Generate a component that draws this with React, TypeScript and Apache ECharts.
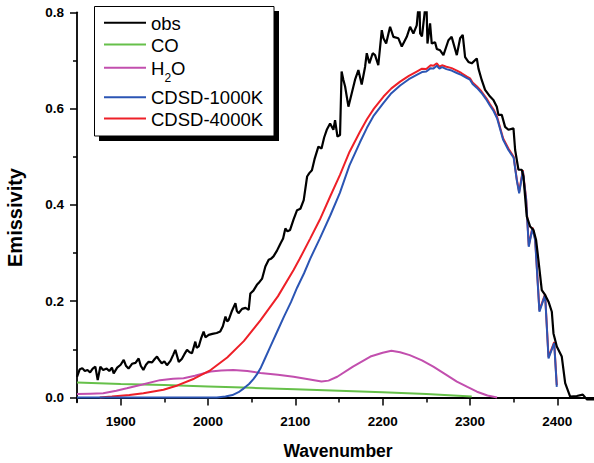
import React, { useEffect, useRef } from "react";
import * as echarts from "echarts";

// ---- data (wavenumber, emissivity) ----
const obsData: number[][] = [
  [1850, 0.043], [1853, 0.058], [1856, 0.061], [1859, 0.055], [1862, 0.057], [1865, 0.052],
  [1868, 0.06], [1871, 0.064], [1873.7, 0.036], [1876.7, 0.064], [1880, 0.057], [1884, 0.06],
  [1887, 0.055], [1890, 0.062], [1892, 0.05], [1896, 0.062], [1900, 0.068], [1903.5, 0.078],
  [1906, 0.066], [1909, 0.06], [1913, 0.07], [1917, 0.072], [1920.6, 0.081], [1923, 0.066],
  [1926, 0.057], [1929, 0.068], [1932, 0.074], [1936, 0.073], [1939, 0.08], [1941.6, 0.085],
  [1944, 0.078], [1947, 0.071], [1950, 0.075], [1953, 0.067], [1957, 0.076], [1960, 0.088],
  [1962.6, 0.099], [1966.5, 0.074], [1970, 0.08], [1973, 0.09], [1976, 0.099], [1979, 0.094],
  [1981.7, 0.092], [1985.5, 0.116], [1987, 0.103], [1989.4, 0.106], [1992, 0.122], [1995, 0.137],
  [1997, 0.125], [2000.8, 0.13], [2005, 0.132], [2010, 0.134], [2014, 0.137], [2017, 0.148],
  [2020, 0.168], [2022, 0.158], [2023.7, 0.161], [2027, 0.178], [2031.4, 0.196], [2033, 0.18],
  [2035, 0.175], [2039, 0.184], [2043, 0.186], [2046.6, 0.182], [2048.5, 0.216], [2052, 0.222],
  [2056, 0.234], [2059, 0.24], [2062, 0.247], [2065.7, 0.272], [2069.5, 0.286], [2072, 0.288],
  [2075, 0.293], [2079, 0.305], [2083, 0.32], [2086, 0.33], [2088.6, 0.351], [2091, 0.345],
  [2094, 0.348], [2098, 0.37], [2102, 0.389], [2105.8, 0.392], [2109.6, 0.41], [2113.5, 0.459],
  [2116, 0.466], [2119, 0.472], [2122, 0.495], [2126.4, 0.521], [2130, 0.517], [2133, 0.54],
  [2136, 0.556], [2139.8, 0.569], [2143.6, 0.556], [2145.5, 0.576], [2148.2, 0.542], [2151.2, 0.545],
  [2153, 0.677], [2155, 0.66], [2157, 0.646], [2160.8, 0.604], [2164.6, 0.632], [2168.4, 0.66],
  [2172.2, 0.68], [2176, 0.65], [2179.9, 0.687], [2181.8, 0.715], [2184.8, 0.694], [2188.6, 0.715],
  [2191.3, 0.711], [2195, 0.69], [2199, 0.763], [2200.9, 0.746], [2204, 0.735], [2208.5, 0.77],
  [2212.3, 0.749], [2218, 0.746], [2221.9, 0.729], [2227.6, 0.749], [2231.4, 0.77], [2235.2, 0.756],
  [2239, 0.773], [2242, 0.83], [2242.9, 0.756], [2245, 0.75], [2250, 0.83], [2251.3, 0.735],
  [2254.3, 0.777], [2256.2, 0.735], [2260, 0.738], [2262, 0.724], [2265.8, 0.721], [2269.6, 0.711],
  [2275.3, 0.742], [2279, 0.749], [2284.9, 0.711], [2288.7, 0.746], [2291.7, 0.753], [2294.4, 0.707],
  [2298.2, 0.697], [2302, 0.694], [2307.8, 0.704], [2309.7, 0.683], [2313.5, 0.659], [2317.3, 0.639],
  [2323, 0.625], [2326.8, 0.618], [2330.7, 0.604], [2332.6, 0.587], [2336.4, 0.587], [2340.2, 0.562],
  [2344, 0.556], [2349.8, 0.559], [2351.7, 0.514], [2355.5, 0.473], [2359.3, 0.473], [2361.2, 0.459],
  [2363.1, 0.417], [2365, 0.376], [2368.9, 0.355], [2372.7, 0.348], [2375.7, 0.327], [2378.4, 0.285],
  [2382.2, 0.223], [2386, 0.213], [2389.9, 0.199], [2393.7, 0.178], [2395.6, 0.133], [2399.4, 0.106],
  [2405.1, 0.085], [2409, 0.03], [2414.7, 0.002], [2422.3, 0.003], [2429.2, 0.006], [2433.8, -0.004],
  [2442, -0.004],
];

const coData: number[][] = [
  [1850, 0.031], [1900, 0.028], [1950, 0.026], [2000, 0.023], [2050, 0.02], [2100, 0.017],
  [2150, 0.014], [2200, 0.011], [2250, 0.007], [2302, 0.002],
];

const h2oData: number[][] = [
  [1850, 0.007], [1865, 0.008], [1880, 0.009], [1895, 0.014], [1907, 0.019], [1925, 0.027],
  [1945, 0.036], [1960, 0.039], [1972, 0.04], [1985, 0.045], [2003, 0.054], [2015, 0.056],
  [2029, 0.057], [2045, 0.055], [2060, 0.051], [2080, 0.047], [2098, 0.043], [2115, 0.038],
  [2130, 0.033], [2138, 0.035], [2148, 0.043], [2166, 0.064], [2186, 0.085], [2200, 0.093],
  [2210, 0.097], [2220, 0.094], [2231, 0.088], [2245, 0.077], [2258, 0.064], [2272, 0.048],
  [2285, 0.033], [2297, 0.022], [2308, 0.012], [2320, 0.004], [2331, 0.0],
];

const cdsd1000Data: number[][] = [
  [1850, 0.0], [1900, 0.0], [1950, 0.0], [2000, 0.0], [2010, 0.0], [2020, 0.002], [2028, 0.005],
  [2035, 0.011], [2041, 0.019], [2047, 0.028], [2052, 0.038], [2056, 0.048], [2060, 0.06],
  [2065, 0.08], [2071, 0.104], [2079, 0.136], [2087, 0.168], [2095, 0.198], [2102, 0.228],
  [2110, 0.258], [2117, 0.288], [2128, 0.33], [2140, 0.378], [2151, 0.425], [2162, 0.482],
  [2174, 0.53], [2182, 0.56], [2190, 0.586], [2201, 0.612], [2210, 0.632], [2220, 0.648],
  [2230, 0.661], [2239, 0.67], [2245, 0.676], [2250, 0.677], [2255, 0.684], [2258, 0.683],
  [2262, 0.689], [2265, 0.683], [2268, 0.686], [2273, 0.682], [2279, 0.679], [2285, 0.674],
  [2290, 0.67], [2296, 0.664], [2300, 0.66], [2303, 0.651], [2308, 0.643], [2313, 0.633],
  [2319, 0.618], [2323, 0.606], [2327, 0.595], [2331, 0.58], [2338, 0.535], [2344, 0.514],
  [2350, 0.498], [2353.6, 0.451], [2356.3, 0.424], [2360.5, 0.47], [2364.3, 0.41], [2367.3, 0.313],
  [2371.5, 0.351], [2374.6, 0.327], [2379.5, 0.178], [2386, 0.213], [2389.9, 0.081],
  [2396.4, 0.113], [2399.4, 0.022],
];

const cdsd4000Data: number[][] = [
  [1876, 0.0], [1890, 0.002], [1910, 0.005], [1926, 0.009], [1949, 0.016], [1965, 0.025],
  [1984, 0.039], [2003, 0.057], [2022, 0.083], [2041, 0.117], [2060, 0.16], [2080, 0.21],
  [2098, 0.265], [2105, 0.288], [2117, 0.33], [2128, 0.369], [2140, 0.418], [2151, 0.462],
  [2162, 0.51], [2174, 0.552], [2182, 0.578], [2190, 0.6], [2201, 0.625], [2210, 0.642],
  [2220, 0.656], [2230, 0.668], [2239, 0.677], [2245, 0.683], [2250, 0.682], [2255, 0.69],
  [2258, 0.689], [2262, 0.694], [2265, 0.687], [2268, 0.69], [2273, 0.687], [2279, 0.684],
  [2285, 0.679], [2290, 0.674], [2296, 0.667], [2300, 0.663], [2303, 0.654], [2308, 0.646],
  [2313, 0.636], [2319, 0.621], [2323, 0.609], [2327, 0.598], [2331, 0.583], [2338, 0.538],
  [2344, 0.517], [2350, 0.5], [2353.6, 0.453], [2356.3, 0.427], [2360.5, 0.472], [2364.3, 0.413],
  [2367.3, 0.316], [2371.5, 0.353], [2374.6, 0.33], [2379.5, 0.181], [2386, 0.215],
  [2389.9, 0.084], [2396.4, 0.115], [2399.4, 0.026],
];

const xMajorTicks = [1900, 2000, 2100, 2200, 2300, 2400];
const xMinorTicks = [1850, 1950, 2050, 2150, 2250, 2350];
const yMajorTicks = [0, 0.2, 0.4, 0.6, 0.8];
const yMinorTicks = [0.1, 0.3, 0.5, 0.7];

const seriesNames = ["obs", "CO", "H2O", "CDSD-1000K", "CDSD-4000K"];
const seriesColors = ["#000000", "#66c04a", "#c24fae", "#2b55b4", "#ee2028"];

const FONT = '"Liberation Sans", Arial, Helvetica, sans-serif';

export default function App() {
  const ref = useRef<HTMLDivElement>(null);

  useEffect(() => {
    if (!ref.current) return;
    const chart = echarts.init(ref.current, null, { renderer: "svg" });

    const axisLineStyle = { color: "#000", width: 1.8 };
    const labelStyle = { color: "#000", fontSize: 13.5, fontWeight: "bold" as const, fontFamily: FONT };

    const dataSets = [obsData, coData, h2oData, cdsd1000Data, cdsd4000Data];
    const drawOrder = [1, 2, 4, 3, 0];
    const series = drawOrder.map((i) => ({
      name: seriesNames[i],
      type: "line",
      xAxisIndex: 0,
      yAxisIndex: 0,
      data: dataSets[i],
      showSymbol: false,
      symbol: "none",
      lineStyle: { color: seriesColors[i], width: i === 0 ? 2.2 : 2 },
      itemStyle: { color: seriesColors[i] },
      z: 2 + drawOrder.indexOf(i),
      silent: true,
    }));

    const legendRows = [22.7, 44.5, 67.7, 97.3, 118.6];
    const legendFont = 18.5;
    const legendEls: any[] = [
      { type: "rect", shape: { x: 99, y: 11, width: 180, height: 130 }, style: { fill: "#000" }, z: 100 },
      {
        type: "rect",
        shape: { x: 94.5, y: 6.5, width: 179.5, height: 129.5 },
        style: { fill: "#fff", stroke: "#000", lineWidth: 1 },
        z: 101,
      },
    ];
    const textStyle = (text: string, size: number) => ({
      text,
      fill: "#000",
      fontSize: size,
      fontFamily: FONT,
      verticalAlign: "middle",
      align: "left",
    });
    seriesNames.forEach((name, i) => {
      const y = legendRows[i];
      legendEls.push({
        type: "line",
        shape: { x1: 104, y1: y, x2: 146, y2: y },
        style: { stroke: seriesColors[i], lineWidth: 2 },
        z: 102,
      });
      if (name === "H2O") {
        legendEls.push({ type: "text", x: 151, y: y + 0.5, z: 102, style: textStyle("H", legendFont) });
        legendEls.push({ type: "text", x: 164.5, y: y + 10.5, z: 102, style: textStyle("2", 12) });
        legendEls.push({ type: "text", x: 171, y: y + 0.5, z: 102, style: textStyle("O", legendFont) });
      } else {
        legendEls.push({ type: "text", x: 151, y: y + 0.5, z: 102, style: textStyle(name, legendFont) });
      }
    });

    legendEls.push({
      type: "text",
      x: 338,
      y: 450.5,
      z: 102,
      style: {
        text: "Wavenumber",
        fill: "#000",
        fontSize: 17.5,
        fontWeight: "bold",
        fontFamily: FONT,
        align: "center",
        verticalAlign: "middle",
      },
    });
    legendEls.push({
      type: "text",
      x: 15,
      y: 217.5,
      rotation: Math.PI / 2,
      z: 102,
      style: {
        text: "Emissivity",
        fill: "#000",
        fontSize: 20,
        fontWeight: "bold",
        fontFamily: FONT,
        align: "center",
        verticalAlign: "middle",
      },
    });

    const option: any = {
      animation: false,
      backgroundColor: "#fff",
      grid: { left: 77, right: 0, top: 12.3, bottom: 60.7, containLabel: false },
      xAxis: [
        {
          type: "value",
          position: "bottom",
          min: 1850,
          max: 2442,
          axisLine: { show: true, lineStyle: axisLineStyle },
          axisTick: { show: true, inside: false, length: 8, lineStyle: { color: "#000", width: 1.5 }, customValues: xMajorTicks },
          axisLabel: { ...labelStyle, margin: 12, customValues: xMajorTicks, formatter: (v: number) => String(v) },
          splitLine: { show: false },
        },
        {
          type: "value",
          position: "bottom",
          min: 1850,
          max: 2442,
          axisLine: { show: false },
          axisTick: { show: true, inside: false, length: 5, lineStyle: { color: "#000", width: 1.5 }, customValues: xMinorTicks },
          axisLabel: { show: false },
          splitLine: { show: false },
        },
      ],
      yAxis: [
        {
          type: "value",
          position: "left",
          min: -0.01,
          max: 0.8,
          axisLine: { show: true, lineStyle: axisLineStyle },
          axisTick: { show: true, inside: false, length: 7, lineStyle: { color: "#000", width: 1.5 }, customValues: yMajorTicks },
          axisLabel: { ...labelStyle, margin: 13, customValues: yMajorTicks, formatter: (v: number) => v.toFixed(1) },
          splitLine: { show: false },
        },
        {
          type: "value",
          position: "left",
          min: -0.01,
          max: 0.8,
          axisLine: { show: false },
          axisTick: { show: true, inside: false, length: 4, lineStyle: { color: "#000", width: 1.5 }, customValues: yMinorTicks },
          axisLabel: { show: false },
          splitLine: { show: false },
        },
      ],
      series,
      graphic: legendEls,
    };

    chart.setOption(option);
    return () => chart.dispose();
  }, []);

  return (
    <div
      ref={ref}
      style={{ position: "absolute", left: 0, top: 0, width: 594, height: 463, background: "#fff" }}
    />
  );
}
